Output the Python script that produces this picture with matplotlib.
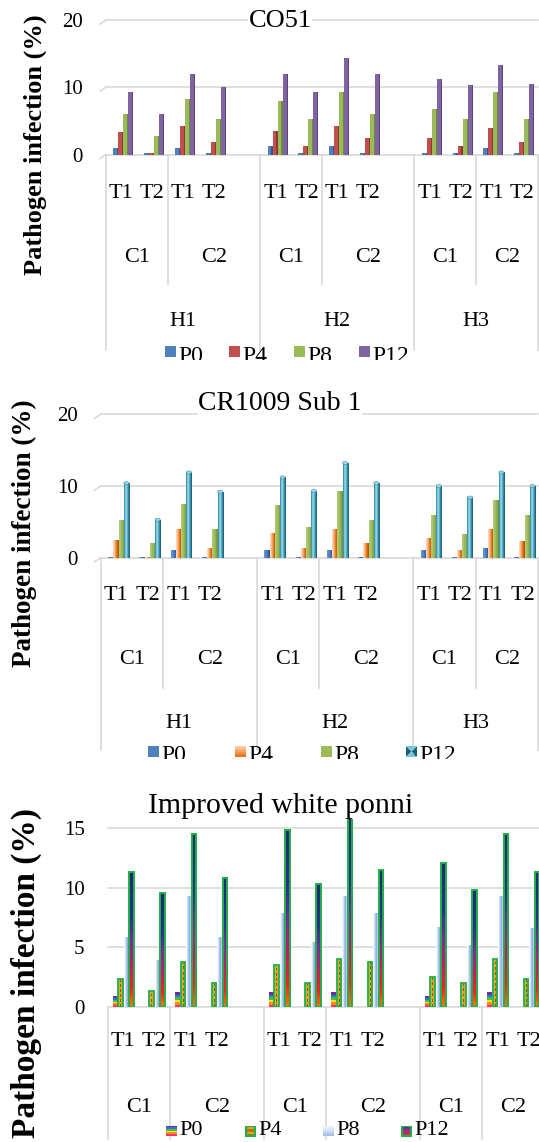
import numpy as np
import matplotlib
matplotlib.use("Agg")
import matplotlib.pyplot as plt
from matplotlib.transforms import blended_transform_factory, Bbox, TransformedBbox
from matplotlib.patches import Ellipse, Rectangle
from matplotlib.colors import LinearSegmentedColormap, to_rgb

plt.rcParams["font.family"] = ["Liberation Serif", "DejaVu Serif"]

W, H, DPI = 539, 1142, 100

harvests = ["H1", "H2", "H3"]
conditions = ["C1", "C2"]
treatments = ["T1", "T2"]
series = ["P0", "P4", "P8", "P12"]
titles = ["CO51", "CR1009 Sub 1", "Improved white ponni"]
ylabel = "Pathogen infection (%)"

# order: H1C1T1, H1C1T2, H1C2T1, H1C2T2, H2..., H3...
co51_p0 = [1.0, 0.15, 1.0, 0.15, 1.3, 0.15, 1.3, 0.15, 0.15, 0.15, 1.0, 0.15]
co51_p4 = [3.3, 0.15, 4.3, 1.8, 3.5, 1.3, 4.3, 2.5, 2.5, 1.3, 4.0, 1.8]
co51_p8 = [6.0, 2.8, 8.3, 5.3, 8.0, 5.3, 9.3, 6.0, 6.8, 5.3, 9.3, 5.3]
co51_p12 = [9.3, 6.0, 12.0, 10.0, 12.0, 9.3, 14.3, 12.0, 11.3, 10.3, 13.3, 10.5]

cr_p0 = [0.15, 0.15, 1.1, 0.15, 1.1, 0.15, 1.1, 0.15, 1.1, 0.15, 1.35, 0.15]
cr_p4 = [2.5, 0.15, 4.0, 1.35, 3.5, 1.35, 4.0, 2.0, 2.8, 1.1, 4.0, 2.3]
cr_p8 = [5.3, 2.0, 7.5, 4.0, 7.3, 4.3, 9.3, 5.3, 6.0, 3.3, 8.0, 6.0]
cr_p12 = [10.4, 5.3, 11.9, 9.2, 11.2, 9.3, 13.2, 10.4, 10.0, 8.4, 11.9, 10.0]

iwp_p0 = [0.9, 0.0, 1.2, 0.0, 1.2, 0.0, 1.2, 0.0, 0.9, 0.0, 1.2, 0.0]
iwp_p4 = [2.3, 1.3, 3.8, 2.0, 3.5, 2.0, 4.0, 3.8, 2.5, 2.0, 4.0, 2.3]
iwp_p8 = [5.85, 3.9, 9.3, 5.85, 7.9, 5.4, 9.3, 7.9, 6.7, 5.2, 9.3, 6.6]
iwp_p12 = [11.35, 9.55, 14.5, 10.8, 14.9, 10.3, 16.0, 11.5, 12.1, 9.8, 14.5, 11.35]

GRID = "#D9D9D9"

# category slots: each harvest holds four bar groups; the first two harvests
# are followed by an empty spacer slot
slots = []
for hi in range(len(harvests)):
    for ci in range(len(conditions)):
        for ti in range(len(treatments)):
            slots.append(hi * 5 + ci * 2 + ti)
slots = np.array(slots, dtype=float)
NSLOT = 14


def hgrad(colors, n=32):
    cmap = LinearSegmentedColormap.from_list("h", colors)
    return cmap(np.linspace(0, 1, n))[np.newaxis, :, :3]


def vgrad(colors, n=64):
    cmap = LinearSegmentedColormap.from_list("v", colors)
    return cmap(np.linspace(0, 1, n))[:, np.newaxis, :3]


def bands(colors):
    return np.array([to_rgb(c) for c in colors])[:, np.newaxis, :]


def dotted(nrows):
    base = np.array(to_rgb("#E8A317"))
    dot = np.array(to_rgb("#8C5A0A"))
    img = np.tile(base, (nrows, 3, 1))
    img[::2, 1, :] = dot
    img[:, 0, :] = np.array(to_rgb("#C9B23A"))
    return img


def image_bars(ax, x, h, w, img, interp="bilinear", z=3):
    bars = ax.bar(x, h, width=w, align="edge", facecolor="none",
                  linewidth=0, zorder=z)
    for r in bars:
        if r.get_height() <= 0:
            continue
        pic = img(r.get_height()) if callable(img) else img
        im = ax.imshow(pic, extent=(r.get_x(), r.get_x() + r.get_width(),
                                    0, r.get_height()),
                       origin="lower", aspect="auto", interpolation=interp,
                       zorder=z)
        im.set_clip_path(r)
    return bars


P12_FILL = [(0.0, "#FF7A00"), (0.12, "#FF1E1E"), (0.3, "#D0146E"),
            (0.48, "#7C2C9C"), (0.66, "#2C318C"), (1.0, "#1F2A6E")]
p12_cmap = LinearSegmentedColormap.from_list("p12", P12_FILL)
p12_img = p12_cmap(np.linspace(0, 1, 64))[:, np.newaxis, :3]

fig = plt.figure(figsize=(W / DPI, H / DPI), dpi=DPI)
fig.patch.set_facecolor("white")


def fy(py):
    return 1 - py / H


panels = [
    dict(values=[co51_p0, co51_p4, co51_p8, co51_p12], style="box",
         left=106, slot=30.84, y0=154.5, ppu=6.725, ymin=-0.1, ymax=20.2,
         ticks=[0, 10, 20], trow=193.5, crow=258, hrow=321,
         cdiv=284, hdiv=350, title_xy=(280, 20.6), title_size=19,
         ylab_xy=(35.5, 145), ylab_size=19, start=0.237, pitch=0.163,
         leg_x=[165, 229, 294, 359], leg_y=352, leg_base=362, leg_cut=359.5,
         leg_size=17),
    dict(values=[cr_p0, cr_p4, cr_p8, cr_p12], style="shaded",
         left=100.7, slot=31.24, y0=557.7, ppu=7.17, ymin=-0.1, ymax=20.2,
         ticks=[0, 10, 20], trow=596, crow=660, hrow=723,
         cdiv=688, hdiv=750, title_xy=(280, 404), title_size=20,
         ylab_xy=(24, 533), ylab_size=19.5, start=0.237, pitch=0.168,
         leg_x=[148, 235, 321, 406], leg_y=751, leg_base=761, leg_cut=758.5,
         leg_size=17),
    dict(values=[iwp_p0, iwp_p4, iwp_p8, iwp_p12], style="fancy",
         left=107.6, slot=31.2, y0=1006.7, ppu=11.89, ymin=-0.05, ymax=16.3,
         ticks=[0, 5, 10, 15], trow=1041, crow=1107, hrow=None,
         cdiv=1139, hdiv=1139, title_xy=(281, 806), title_size=21.5,
         ylab_xy=(26, 973), ylab_size=24, start=0.163, pitch=0.176,
         leg_x=[166, 245, 323, 401], leg_y=1131, leg_base=1135, leg_cut=None,
         leg_size=16),
]

for p_i, P in enumerate(panels):
    top_px = P["y0"] - P["ymax"] * P["ppu"]
    bot_px = P["y0"] - P["ymin"] * P["ppu"]
    ax = fig.add_axes([P["left"] / W, fy(bot_px), NSLOT * P["slot"] / W,
                       (bot_px - top_px) / H])
    for s in ax.spines.values():
        s.set_visible(False)
    ax.set_facecolor("none")
    ax.set_xticks([])
    ax.set_yticks(P["ticks"])
    ax.tick_params(axis="y", length=0, pad=16.5, labelsize=15)
    for t in P["ticks"]:
        ax.axhline(t, color=GRID, lw=1.2, zorder=1, clip_on=False)

    vals = [np.array(v, dtype=float) for v in P["values"]]
    pitch = P["pitch"]
    xs = [slots + P["start"] + k * pitch for k in range(4)]

    if P["style"] == "box":
        fronts = ["#4F81BD", "#C0504D", "#9BBB59", "#8064A2"]
        sides = ["#36598A", "#8E3733", "#6E8B3D", "#5B4677"]
        fw, sw = pitch * 0.78, pitch * 0.22
        for k in range(4):
            ax.bar(xs[k], vals[k], width=fw, align="edge", color=fronts[k],
                   lw=0, zorder=3)
            ax.bar(xs[k] + fw, vals[k], width=sw, align="edge",
                   color=sides[k], lw=0, zorder=3)
    elif P["style"] == "shaded":
        w = pitch * 0.97
        image_bars(ax, xs[0], vals[0], w, hgrad(["#6A9AD6", "#4A7CBB", "#2B5084"]))
        image_bars(ax, xs[1], vals[1], w,
                   hgrad(["#FDE2CB", "#F8B07A", "#E46C0A", "#A84F06"]))
        image_bars(ax, xs[2], vals[2], w, hgrad(["#B2CE78", "#9BBB59", "#6E8B3D"]))
        cyl = image_bars(ax, xs[3], vals[3], w,
                         hgrad(["#2A7C91", "#6CC0D6", "#A9E0EE", "#4BACC6",
                                "#2D8098", "#1D5868"]))
        cap = 3.0 / P["ppu"]
        for r in cyl:
            ax.add_patch(Ellipse((r.get_x() + r.get_width() / 2, r.get_height()),
                                 r.get_width(), cap, facecolor="#9ED6E6",
                                 edgecolor="#3A93AB", lw=0.4, zorder=4))
    else:
        w = pitch * 0.85
        image_bars(ax, xs[0], vals[0], w,
                   bands(["#FF3366", "#FF8C1A", "#FFE21A", "#3CC43C",
                          "#3A6BE8", "#6A2FA0"]), interp="nearest")
        ppu = P["ppu"]
        image_bars(ax, xs[1], vals[1], w,
                   lambda h: dotted(max(2, int(round(h * ppu / 2.6)))),
                   interp="nearest")
        ax.bar(xs[1], vals[1], width=w, align="edge", facecolor="none",
               edgecolor="#1FB04A", lw=1.3, zorder=4)
        image_bars(ax, xs[2], vals[2], w,
                   hgrad(["#FFFFFF", "#E4ECF7", "#A9C4E8", "#7FA6DA", "#D6E2F3"]))
        image_bars(ax, xs[3], vals[3], w, p12_img)
        ax.bar(xs[3], vals[3], width=w, align="edge", facecolor="none",
               edgecolor="#1FB04A", lw=1.4, zorder=4)

    ax.set_xlim(0, NSLOT)
    ax.set_ylim(P["ymin"], P["ymax"])

    # multi-level category axis
    tr = blended_transform_factory(ax.transData, fig.transFigure)
    for i, s in enumerate(slots):
        ax.text(s + 0.5, fy(P["trow"]), treatments[i % 2], transform=tr,
                ha="center", va="center", fontsize=16, clip_on=False)
    for hi, hname in enumerate(harvests):
        h0 = hi * 5
        h1 = min(h0 + 5, NSLOT)
        c_edges = [(h0, h0 + 2), (h0 + 2, h1)]
        for ci, (a, b) in enumerate(c_edges):
            ax.text((a + b) / 2, fy(P["crow"]), conditions[ci], transform=tr,
                    ha="center", va="center", fontsize=16, clip_on=False)
        if P["hrow"] is not None:
            ax.text((h0 + h1) / 2, fy(P["hrow"]), hname, transform=tr,
                    ha="center", va="center", fontsize=16, clip_on=False)
        ax.plot([h0 + 2, h0 + 2], [fy(P["y0"]), fy(P["cdiv"])], transform=tr,
                color=GRID, lw=1.2, clip_on=False, zorder=1)
        ax.plot([h0, h0], [fy(P["y0"]), fy(P["hdiv"])], transform=tr,
                color=GRID, lw=1.2, clip_on=False, zorder=1)
    ax.plot([NSLOT, NSLOT], [fy(P["y0"]), fy(P["hdiv"])], transform=tr,
            color=GRID, lw=1.2, clip_on=False, zorder=1)

    # slanted wall edge at the left end of each gridline of the 3-D panels
    if P["style"] != "fancy":
        for t in P["ticks"]:
            ypx = P["y0"] - t * P["ppu"]
            fig.add_artist(plt.Line2D([(P["left"] - 6) / W, P["left"] / W],
                                      [fy(ypx + 4), fy(ypx)], color=GRID,
                                      lw=1.2, transform=fig.transFigure))

    fig.text(P["title_xy"][0] / W, fy(P["title_xy"][1]), titles[p_i],
             ha="center", va="center", fontsize=P["title_size"],
             bbox=dict(facecolor="white", edgecolor="none", pad=0.3))
    fig.text(P["ylab_xy"][0] / W, fy(P["ylab_xy"][1]), ylabel, rotation=90,
             ha="center", va="center", fontsize=P["ylab_size"],
             fontweight="bold")

    # legend
    msz = 11
    for k, name in enumerate(series):
        lx = P["leg_x"][k]
        mk = fig.add_axes([lx / W, fy(P["leg_y"] + msz / 2), msz / W, msz / H])
        mk.set_axis_off()
        mk.set_xlim(0, 1)
        mk.set_ylim(0, 1)
        if P["style"] == "box":
            mk.add_patch(Rectangle((0, 0), 1, 1, color=fronts[k]))
        elif P["style"] == "shaded":
            if k == 0:
                mk.add_patch(Rectangle((0, 0), 1, 1, color="#4F81BD"))
            elif k == 1:
                mk.imshow(vgrad(["#E46C0A", "#F6A25E", "#FCD5B5"]),
                          extent=(0, 1, 0, 1), aspect="auto", origin="lower")
            elif k == 2:
                mk.add_patch(Rectangle((0, 0), 1, 1, color="#9BBB59"))
            else:
                g = np.linspace(-1, 1, 12)
                gx, gy = np.meshgrid(g, g)
                side = (np.abs(gx) > np.abs(gy)).astype(float)
                c1, c2 = np.array(to_rgb("#79C6DA")), np.array(to_rgb("#215E70"))
                img = c1 * (1 - side[..., None]) + c2 * side[..., None]
                mk.imshow(img, extent=(0, 1, 0, 1), aspect="auto",
                          origin="lower", interpolation="nearest")
        else:
            if k == 0:
                mk.imshow(bands(["#FF3366", "#FF8C1A", "#FFE21A", "#3CC43C",
                                 "#3A6BE8", "#6A2FA0"]), extent=(0, 1, 0, 1),
                          aspect="auto", origin="lower", interpolation="nearest")
            elif k == 1:
                mk.imshow(bands(["#B8741A", "#E8A317", "#B8741A", "#E8A317",
                                 "#B8741A"]), extent=(0, 1, 0, 1), aspect="auto",
                          origin="lower", interpolation="nearest")
                mk.add_patch(Rectangle((0.05, 0.05), 0.9, 0.9, facecolor="none",
                                       edgecolor="#1FB04A", lw=1.6))
            elif k == 2:
                mk.imshow(vgrad(["#9DBCE6", "#D6E3F5", "#F4F8FD"]),
                          extent=(0, 1, 0, 1), aspect="auto", origin="lower")
            else:
                mk.imshow(vgrad(["#FF2020", "#9B2C8C", "#2C318C"]),
                          extent=(0, 1, 0, 1), aspect="auto", origin="lower")
                mk.add_patch(Rectangle((0.05, 0.05), 0.9, 0.9, facecolor="none",
                                       edgecolor="#1FB04A", lw=1.6))
        t = fig.text((lx + msz + 2) / W, fy(P["leg_base"]), name,
                     ha="left", va="baseline", fontsize=P["leg_size"])
        if P["leg_cut"] is not None:
            t.set_clip_box(TransformedBbox(Bbox([[0, fy(P["leg_cut"])], [1, 1]]),
                                           fig.transFigure))
            t.set_clip_on(True)

fig.savefig("out.png", dpi=DPI, facecolor="white")
